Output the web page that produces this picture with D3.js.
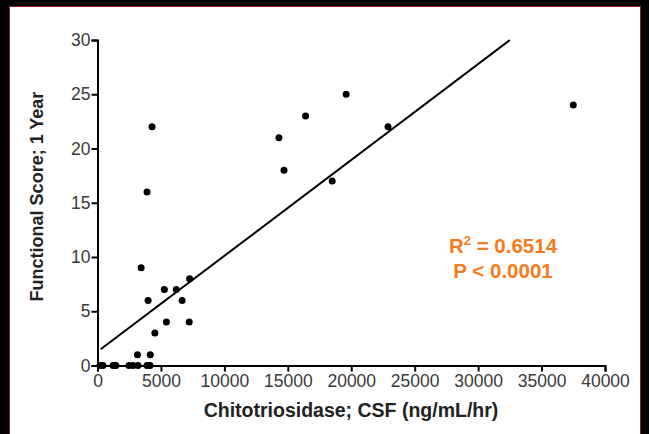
<!DOCTYPE html>
<html>
<head>
<meta charset="utf-8">
<script src="https://cdn.jsdelivr.net/npm/d3@7"></script>
<style>
  body { margin: 0; background: #fff; }
  svg { display: block; }
</style>
</head>
<body>
<svg id="main-svg" width="649" height="434"></svg>
<script>
// chitotriosidase (ng/mL/hr) vs functional score at 1 year
let chito = [200, 430, 1230, 1450, 2480, 2800, 3190, 3900, 4140,
             3150, 4160, 4520, 5430, 7230, 3990, 6670, 5270, 6210, 7260, 3440,
             3900, 4300, 14300, 14700, 16400, 18500, 19600, 22900, 37500];
let score = [0, 0, 0, 0, 0, 0, 0, 0, 0,
             1, 1, 3, 4, 4, 6, 6, 7, 7, 8, 9,
             16, 22, 21, 18, 23, 17, 25, 22, 24];

// linear fit as drawn
let fitIntercept = 1.27;
let fitSlope = 0.000884;
let fitRange = [250, 32500];

let xTicks = [0, 5000, 10000, 15000, 20000, 25000, 30000, 35000, 40000];
let yTicks = [0, 5, 10, 15, 20, 25, 30];

let svg = d3.select("#main-svg");
let width = 649, height = 434;
let font = "'Liberation Sans', Arial, sans-serif";

let x = d3.scaleLinear().domain([0, 40000]).range([97.5, 605]);
let y = d3.scaleLinear().domain([0, 30]).range([365.5, 40]);

// frame
svg.append("rect").attr("x", 0).attr("y", 0).attr("width", width).attr("height", 6).attr("fill", "#000");
svg.append("rect").attr("x", 0).attr("y", 0).attr("width", 9).attr("height", height).attr("fill", "#000");
svg.append("rect").attr("x", 641).attr("y", 0).attr("width", 8).attr("height", height).attr("fill", "#000");
svg.append("path")
    .attr("d", "M9.5," + height + "V6.5H640.5V" + height)
    .attr("fill", "none").attr("stroke", "#8b1a1a").attr("stroke-width", 1);

// regression line
svg.append("line")
    .attr("x1", x(fitRange[0])).attr("y1", y(fitIntercept + fitSlope * fitRange[0]))
    .attr("x2", x(fitRange[1])).attr("y2", y(fitIntercept + fitSlope * fitRange[1]))
    .attr("stroke", "#000").attr("stroke-width", 2);

// axes
let xAxis = d3.axisBottom(x).tickValues(xTicks).tickSize(6).tickPadding(3).tickFormat(d3.format("d"));
let yAxis = d3.axisLeft(y).tickValues(yTicks).tickSize(6).tickPadding(1);

function styleAxis(g) {
    g.select(".domain").attr("stroke-width", 2);
    g.selectAll(".tick line").attr("stroke-width", 2);
    g.selectAll(".tick text")
        .style("font-family", font)
        .style("font-size", "17.5px")
        .style("fill", "#3a3a3a");
}

svg.append("g").attr("transform", "translate(0," + y(0) + ")").call(xAxis).call(styleAxis);
svg.append("g").attr("transform", "translate(" + x(0) + ",0)").call(yAxis).call(styleAxis);

// points
svg.append("g").selectAll("circle")
    .data(chito.map((c, i) => ({ c: c, s: score[i] })))
    .enter().append("circle")
    .attr("cx", d => x(d.c))
    .attr("cy", d => y(d.s))
    .attr("r", 3.5)
    .attr("fill", "#000");

// axis titles
svg.append("text")
    .attr("x", 351).attr("y", 417)
    .attr("text-anchor", "middle")
    .style("font-family", font)
    .style("font-size", "19.5px").style("font-weight", "bold").style("fill", "#222")
    .text("Chitotriosidase; CSF (ng/mL/hr)");

svg.append("text")
    .attr("transform", "translate(43,196.5) rotate(-90)")
    .attr("text-anchor", "middle")
    .style("font-family", font)
    .style("font-size", "18px").style("font-weight", "bold").style("fill", "#222")
    .text("Functional Score; 1 Year");

// stats
let stats = svg.append("text")
    .attr("text-anchor", "middle")
    .style("font-family", font)
    .style("font-size", "20.5px").style("font-weight", "bold").style("fill", "#f47b20");
let l1 = stats.append("tspan").attr("x", 503).attr("y", 253);
l1.append("tspan").text("R");
l1.append("tspan").attr("dy", -8).style("font-size", "13px").text("2");
l1.append("tspan").attr("dy", 8).text(" = 0.6514");
stats.append("tspan").attr("x", 503).attr("y", 278).text("P < 0.0001");
</script>
</body>
</html>
